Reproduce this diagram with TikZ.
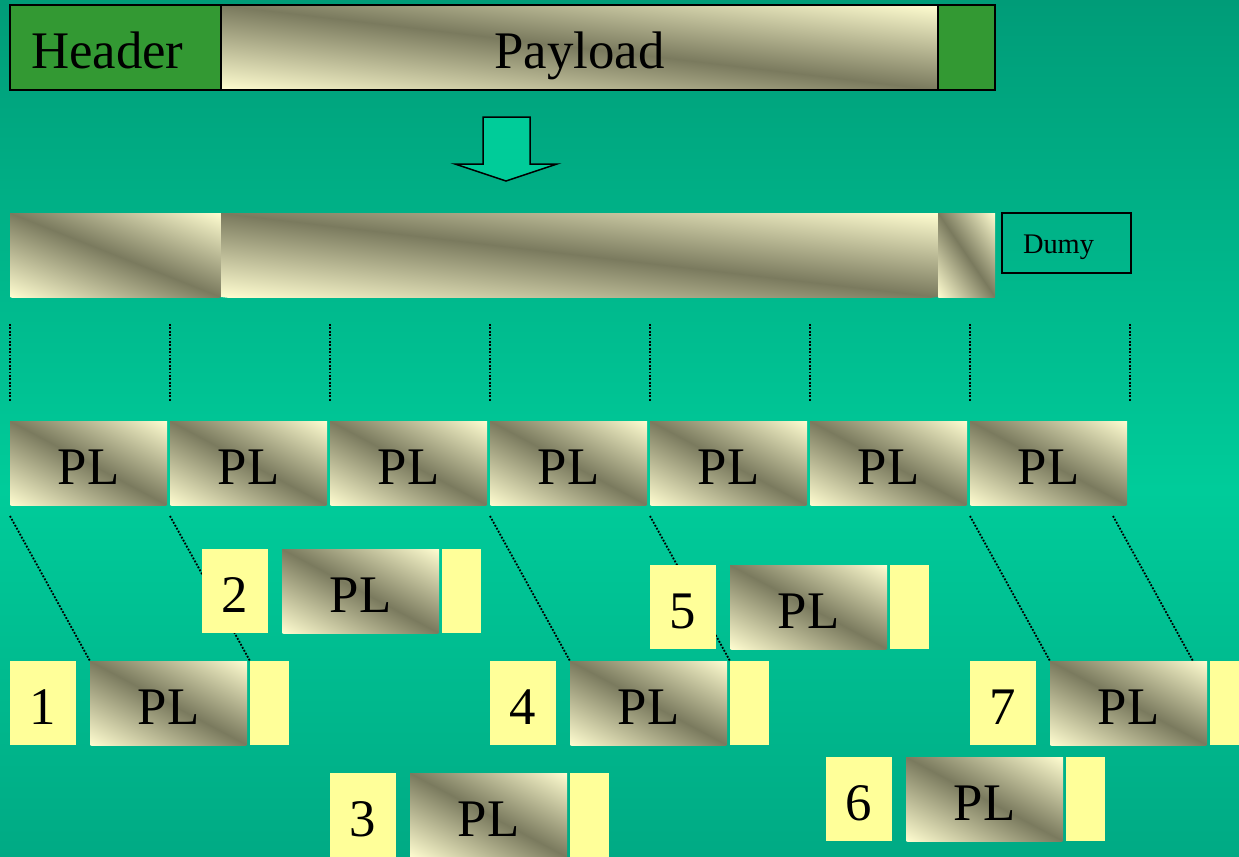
\documentclass[tikz,border=0pt]{standalone}
\usepackage{fontspec}
\setmainfont{Liberation Serif}
\usetikzlibrary{calc}
\definecolor{lightc}{HTML}{FFFDD0}
\definecolor{darkc}{HTML}{7A7A5E}
\definecolor{hgreen}{HTML}{339933}
\definecolor{yel}{HTML}{FFFF99}
\definecolor{arrowc}{HTML}{00CC99}
\definecolor{bgtop}{HTML}{009C78}
\definecolor{bgmid}{HTML}{00CC9A}
\definecolor{bgbot}{HTML}{00AA84}
\pgfdeclarelayer{back}
\pgfdeclarelayer{lines}
\pgfsetlayers{back,lines,main}
\tikzset{
  box/.style={inner sep=0pt, outer sep=0pt, anchor=north west, minimum height=84bp,
    text height=42bp, text depth=0pt, font=\fontsize{53}{60}\selectfont},
  numbox/.style={box, fill=yel, minimum width=66bp},
  tailbox/.style={box, fill=yel, minimum width=39bp},
  plbox/.style={box, minimum width=157bp},
  outl/.style={draw=black, line width=1.5bp},
  dots/.style={draw=black, line width=1.8bp, dash pattern=on 1.8bp off 1.6bp},
}
% metallic diagonal gradient filling the box (x,y,w,h) in picture units (y down)
\newcommand\metalrect[4]{%
  \pgfmathsetmacro\mrx{#1}%
  \pgfmathsetmacro\mry{#2}%
  \pgfmathsetmacro\mrw{(#3)/2}%
  \pgfmathsetmacro\mrh{(#4)/2}%
  \pgfmathsetmacro\mrhn{-(#4)/2}%
  \pgfmathsetmacro\mryn{-(#2)}%
  \begin{scope}
    \clip (\mrx,\mry) rectangle ++(#3,#4);
    \begin{scope}[transform canvas={cm={\mrw,\mrh,\mrw,\mrhn,(\mrx bp,\mryn bp)}}]
      \shade[left color=lightc, right color=lightc, middle color=darkc]
        (-1bp,0bp) rectangle (1bp,2bp);
    \end{scope}
  \end{scope}}
\begin{document}
\begin{tikzpicture}[x=1bp, y=-1bp]
\useasboundingbox (0,0) rectangle (1239,857);
\clip (0,0) rectangle (1239,857);
\begin{pgfonlayer}{back}
  \shade[top color=bgtop, bottom color=bgmid] (0,0) rectangle (1239,490);
  \shade[top color=bgmid, bottom color=bgbot] (0,490) rectangle (1239,857);
\end{pgfonlayer}

% top frame
\metalrect{221}{5}{717}{85}
\node[box, outl, fill=hgreen, minimum height=85bp, minimum width=211bp, text width=169bp, align=left] (header) at (10,5) {Header};
\node[box, outl, minimum height=85bp, minimum width=717bp] (payload) at (221,5) {Payload};
\node[box, outl, fill=hgreen, minimum height=85bp, minimum width=57bp] (trailer) at (938,5) {};

% block arrow
\draw[outl, fill=arrowc, line join=miter]
  (483,117) -- (530,117) -- (530,164) -- (557,164) -- (506,181) -- (455,164) -- (483,164) -- cycle;

% second bar
\metalrect{10}{213}{211}{84}
\metalrect{221}{213}{717}{84}
\metalrect{938}{213}{57}{84}
\node[box, minimum width=211bp] (bar1) at (10,213) {};
\node[box, minimum width=717bp] (bar2) at (221,213) {};
\node[box, minimum width=57bp] (bar3) at (938,213) {};
\node[box, outl, minimum height=60bp, minimum width=129bp, text width=87bp, align=left,
      text height=20.6bp, font=\fontsize{28.5}{32}\selectfont] (dumy) at (1002,213) {Dumy};

% row of PL
\foreach \k in {1,...,7} {
  \metalrect{10+160*(\k-1)}{421}{157}{84}
  \node[plbox] (row\k) at ({10+160*(\k-1)},421) {PL};
}
% vertical dotted guides
\foreach \k in {0,...,7} {
  \coordinate (vt\k) at ({10+160*\k},324);
  \coordinate (vb\k) at ({10+160*\k},402);
}
\begin{pgfonlayer}{lines}
  \foreach \k in {0,...,7} { \draw[dots] (vt\k) -- (vb\k); }
\end{pgfonlayer}

% packets
\foreach \n/\x/\y in {1/10/661, 2/202/549, 3/330/773, 4/490/661, 5/650/565, 6/826/757, 7/970/661} {
  \node[numbox] (num\n) at (\x,\y) {\n};
  \metalrect{\x+80}{\y}{157}{84}
  \node[plbox] (pl\n) at (\x+80,\y) {PL};
  \node[tailbox] (tail\n) at (\x+240,\y) {};
}

% diagonal dotted lines
\coordinate (s1) at ([yshift=-11bp]row1.south west);
\coordinate (s2) at ([yshift=-11bp]row2.south west);
\coordinate (s3) at ([yshift=-11bp]row4.south west);
\coordinate (s4) at ([yshift=-11bp]row5.south west);
\coordinate (s5) at ([yshift=-11bp]row7.south west);
\coordinate (s6) at ([xshift=-14bp,yshift=-11bp]row7.south east);
\coordinate (e6) at ([xshift=-14bp]pl7.north east);
\begin{pgfonlayer}{lines}
  \draw[dots] (s1) -- (pl1.north west);
  \draw[dots] (s2) -- (tail1.north west);
  \draw[dots] (s3) -- (pl4.north west);
  \draw[dots] (s4) -- (tail4.north west);
  \draw[dots] (s5) -- (pl7.north west);
  \draw[dots] (s6) -- (e6);
\end{pgfonlayer}
\end{tikzpicture}
\end{document}
